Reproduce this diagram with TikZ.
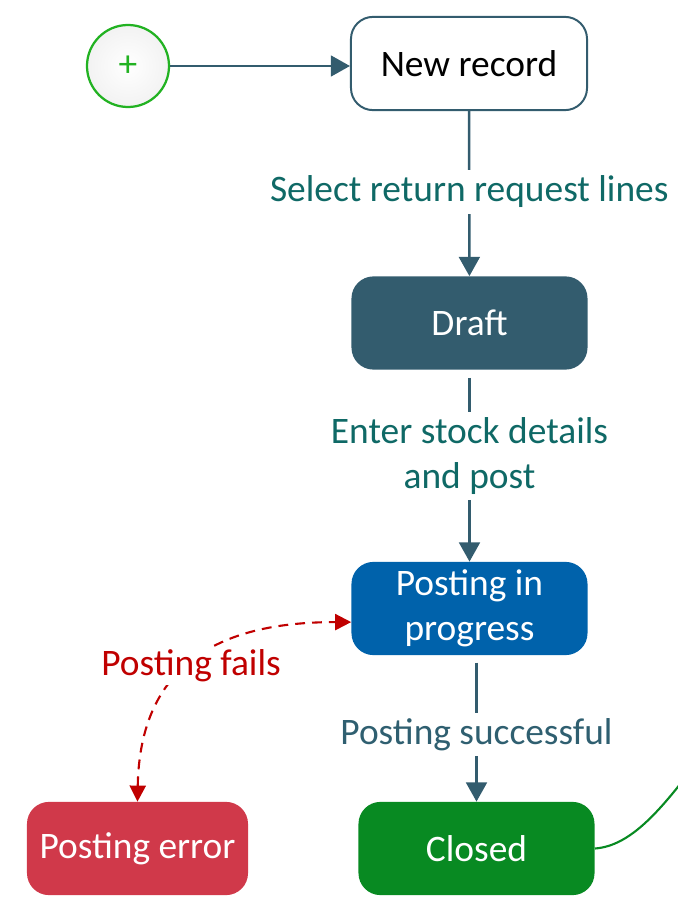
\documentclass[tikz,border=0pt]{standalone}
\usepackage{fontspec}
\setmainfont{Carlito}
\usetikzlibrary{arrows.meta,shapes,positioning}
\definecolor{slate}{HTML}{335C6E}
\definecolor{tealtxt}{HTML}{0F6966}
\definecolor{slatetxt}{HTML}{2F5F70}
\definecolor{bluebox}{HTML}{0062AB}
\definecolor{redbox}{HTML}{D0394A}
\definecolor{greenbox}{HTML}{088A22}
\definecolor{startgreen}{HTML}{22B222}
\definecolor{failred}{HTML}{C00000}
\tikzstyle{state}=[draw=none,rounded corners=0.55cm,minimum width=5.9cm,
                minimum height=2.33cm,text=white,align=center]
\tikzstyle{start}=[circle,draw=startgreen,line width=1.6pt,minimum size=2.05cm,
                inner color=white,outer color=black!5,text=startgreen]
\tikzstyle{trans}=[draw=slate,line width=1.8pt,-{Triangle[length=0.48cm,width=0.52cm]}]
\tikzstyle{lbl}=[fill=white,inner sep=4pt,align=center]
\tikzstyle{fail}=[draw=failred,line width=1.5pt,dashed,dash pattern=on 7pt off 5pt,
                {Triangle[length=0.4cm,width=0.4cm]}-{Triangle[length=0.4cm,width=0.4cm]}]

\begin{document}
\begin{tikzpicture}[x=0.025cm,y=-0.025cm,font=\fontsize{26.6}{32}\selectfont]
\useasboundingbox (0,0) rectangle (677,900);

\node[start] (init) at (128,66) {+};
\node[state,draw=slate,line width=1.4pt,fill=white,text=black] (new) at (469,63.5) {New record};
\node[state,fill=slate] (draft) at (469.5,323) {Draft};
\node[state,fill=bluebox] (posting) at (469.5,608.5) {Posting in\\progress};
\node[state,fill=greenbox] (closed) at (476.5,848.5) {Closed};
\node[state,fill=redbox,minimum width=5.525cm] (error) at (137.5,848.5) {Posting error};
\coordinate (beyond) at (700,758);

\path[trans] (init.east) -- (init.east -| new.west);
\path[trans] (new) -- (draft)
  node[lbl,text=tealtxt,pos=0.49] (selectlbl) {Select return request lines};
\path[trans,shorten <=0.2cm] (draft) -- (posting)
  node[lbl,text=tealtxt,pos=0.45] (enterlbl) {Enter stock details\\and post};
\path[trans,shorten <=0.18cm] (posting.south -| closed.north) -- (closed)
  node[lbl,text=slatetxt,pos=0.54] (successlbl) {Posting successful};

\draw[fail] (error.north) .. controls (140,650) and (240,622) .. ([yshift=-0.34cm]posting.west);
\node[lbl,text=failred,inner sep=2pt] (failslbl) at (191,666) {Posting fails};

\draw[greenbox,line width=1.5pt] (closed.east) .. controls (630,846) and (660,812) .. (beyond);

\end{tikzpicture}
\end{document}
